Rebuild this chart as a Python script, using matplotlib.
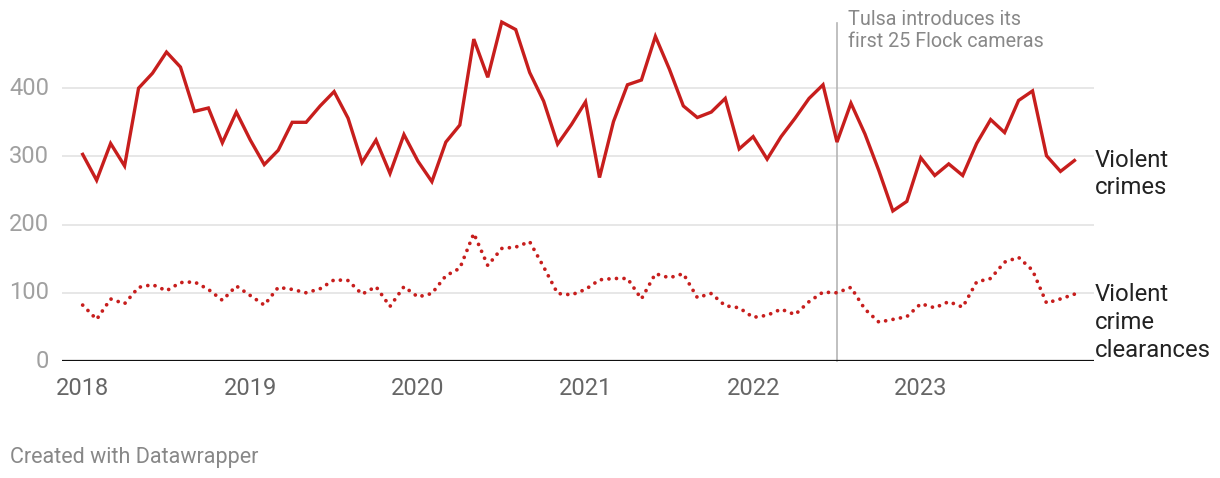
import matplotlib.pyplot as plt
import numpy as np

plt.rcParams['font.family'] = ['Roboto', 'DejaVu Sans']

RED = "#c71e1d"
GRID = "#e0e0e0"
TICK_GREY = "#a0a0a0"
YEAR_GREY = "#666666"
NOTE_GREY = "#888888"

# monthly values, Jan 2018 - Dec 2023
violent_crimes = [303, 265, 319, 286, 400, 422, 453, 431, 366, 371, 320, 365,
                  324, 288, 309, 350, 350, 374, 395, 356, 291, 324, 275, 332,
                  293, 263, 321, 346, 472, 416, 497, 486, 423, 381, 318, 347,
                  380, 269, 351, 405, 412, 476, 428, 374, 357, 365, 385, 311,
                  329, 296, 329, 356, 385, 405, 321, 378, 333, 279, 220, 234,
                  298, 272, 289, 272, 319, 354, 335, 382, 396, 301, 278, 294]
clearances = [82, 61, 91, 84, 108, 112, 103, 115, 116, 105, 89, 110,
              96, 82, 108, 105, 100, 106, 119, 118, 98, 109, 80, 109,
              94, 99, 125, 136, 187, 140, 165, 167, 175, 138, 99, 97,
              105, 119, 121, 121, 91, 128, 122, 128, 93, 99, 81, 78,
              64, 67, 76, 68, 87, 101, 100, 108, 76, 57, 61, 65,
              84, 78, 87, 79, 116, 121, 145, 152, 133, 85, 91, 98]
years = ['2018', '2019', '2020', '2021', '2022', '2023']
y_ticks = [0, 100, 200, 300, 400]
flock_month = 54  # July 2022

months = np.arange(len(violent_crimes))

fig = plt.figure(figsize=(12.2, 4.78), dpi=100)
ax = fig.add_axes([62/1220, (478-361)/478, (1094-62)/1220, 341/478])
ax.set_xlim(-1.48, 72.4)
ax.set_ylim(0, 500)
for s in ax.spines.values():
    s.set_visible(False)
ax.set_xticks([]); ax.set_yticks([])

for v in y_ticks[1:]:
    ax.axhline(v, color=GRID, lw=1.1, zorder=1)
ax.axhline(0, color='#111111', lw=1.6, zorder=4)
for v in y_ticks:
    ax.text(-2.4, v, str(v), ha='right', va='center', fontsize=17, color=TICK_GREY)
for k, yr in enumerate(years):
    ax.text(12*k, -40, yr, ha='center', va='center', fontsize=17, color=YEAR_GREY)

ax.plot(months, violent_crimes, color=RED, lw=2.4, solid_joinstyle='miter', zorder=3, clip_on=False)
ax.plot(months, clearances, color=RED, lw=2.7, linestyle=(0, (0.01, 2.0)),
        dash_capstyle='round', zorder=3, clip_on=False)

ax.plot([flock_month, flock_month], [0, 496], color='#b5b5b5', lw=1.2, zorder=2, clip_on=False)
ax.text(flock_month+0.8, 484, 'Tulsa introduces its\nfirst 25 Flock cameras', ha='left', va='center',
        fontsize=14.2, color=NOTE_GREY, linespacing=1.2, clip_on=False)

ax.text(72.45, violent_crimes[-1], 'Violent', ha='left', va='center', fontsize=17.2, color='#222222')
ax.text(72.45, violent_crimes[-1]-40, 'crimes', ha='left', va='center', fontsize=17.2, color='#222222')
for n, w in enumerate(['Violent', 'crime', 'clearances']):
    ax.text(72.45, clearances[-1]-41*n, w, ha='left', va='center', fontsize=17.2, color='#222222')

fig.text(10/1220, 1-457/478, 'Created with Datawrapper', ha='left', va='center', fontsize=15.5, color=NOTE_GREY)

fig.savefig('out.png', dpi=100)
